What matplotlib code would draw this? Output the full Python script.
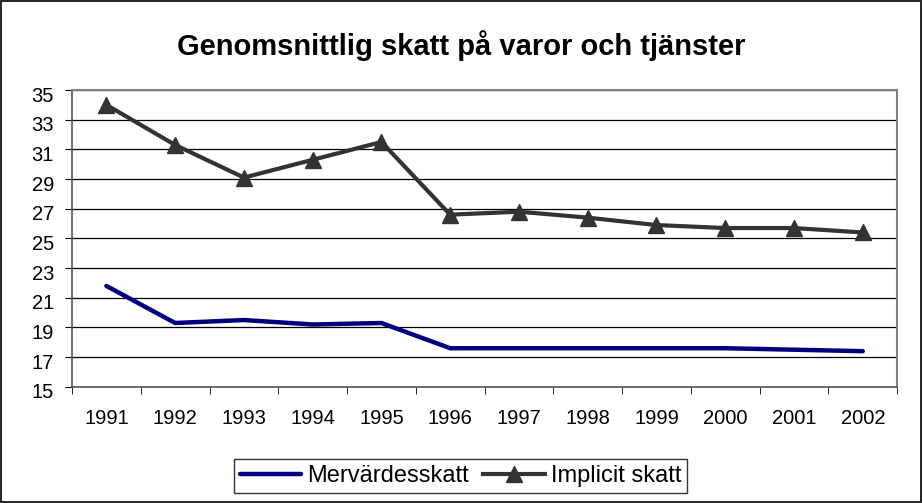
import matplotlib.pyplot as plt
from matplotlib.patches import Rectangle
from matplotlib.transforms import ScaledTranslation

years = ['1991', '1992', '1993', '1994', '1995', '1996', '1997', '1998', '1999', '2000', '2001', '2002']
mervardesskatt = [21.8, 19.3, 19.5, 19.2, 19.3, 17.6, 17.6, 17.6, 17.6, 17.6, 17.5, 17.4]
implicit_skatt = [34.0, 31.3, 29.1, 30.3, 31.5, 26.6, 26.8, 26.4, 25.9, 25.7, 25.7, 25.4]
title = 'Genomsnittlig skatt på varor och tjänster'

plt.rcParams['font.family'] = ['Liberation Sans', 'DejaVu Sans']

fig = plt.figure(figsize=(9.23, 5.03), dpi=100)
ax = fig.add_axes([0.078, 0.231, 0.894, 0.590])

x = list(range(len(years)))
ax.plot(x, mervardesskatt, color='#000080', lw=3.2, label='Mervärdesskatt',
        solid_capstyle='round')
ax.plot(x, implicit_skatt, color='#333333', lw=3.0, marker='^', markersize=12,
        label='Implicit skatt')

ax.set_xlim(-0.5, len(years) - 0.5)
ax.set_ylim(15, 35)
ax.set_yticks(range(15, 36, 2))
ax.set_xticks(x)
ax.set_xticklabels(years)
ax.set_xticks([i - 0.5 for i in range(len(years) + 1)], minor=True)
ax.tick_params(axis='x', which='major', length=0, pad=16, labelsize=14.5)
ax.tick_params(axis='x', which='minor', length=5, direction='out', color='black')
ax.tick_params(axis='y', length=5, direction='out', labelsize=14.5, pad=8)
ax.grid(axis='y', color='black', lw=0.9)
ax.set_axisbelow(True)
for side in ['top', 'right']:
    ax.spines[side].set_color('#808080')
    ax.spines[side].set_linewidth(1.5)
for side in ['left', 'bottom']:
    ax.spines[side].set_color('#555555')
    ax.spines[side].set_linewidth(1.2)

# excel puts the y labels a bit under the gridline
shift = ScaledTranslation(0, -4 / 100, fig.dpi_scale_trans)
for lbl in ax.get_yticklabels():
    lbl.set_transform(lbl.get_transform() + shift)

fig.text(0.5, 0.8907, title, ha='center', va='baseline', fontsize=21, fontweight='bold')

leg = fig.legend(loc='center', bbox_to_anchor=(0.499, 0.0537), ncol=2, fontsize=17,
                 frameon=True, fancybox=False, edgecolor='black', handlelength=2.6,
                 handletextpad=0.25, columnspacing=0.6, borderpad=0.25)
leg.get_frame().set_linewidth(1.0)

fig.patches.append(Rectangle((0.001, 0.002), 0.997, 0.996, transform=fig.transFigure,
                             fill=False, edgecolor='black', lw=1.2))

fig.savefig('out.png', dpi=100)
